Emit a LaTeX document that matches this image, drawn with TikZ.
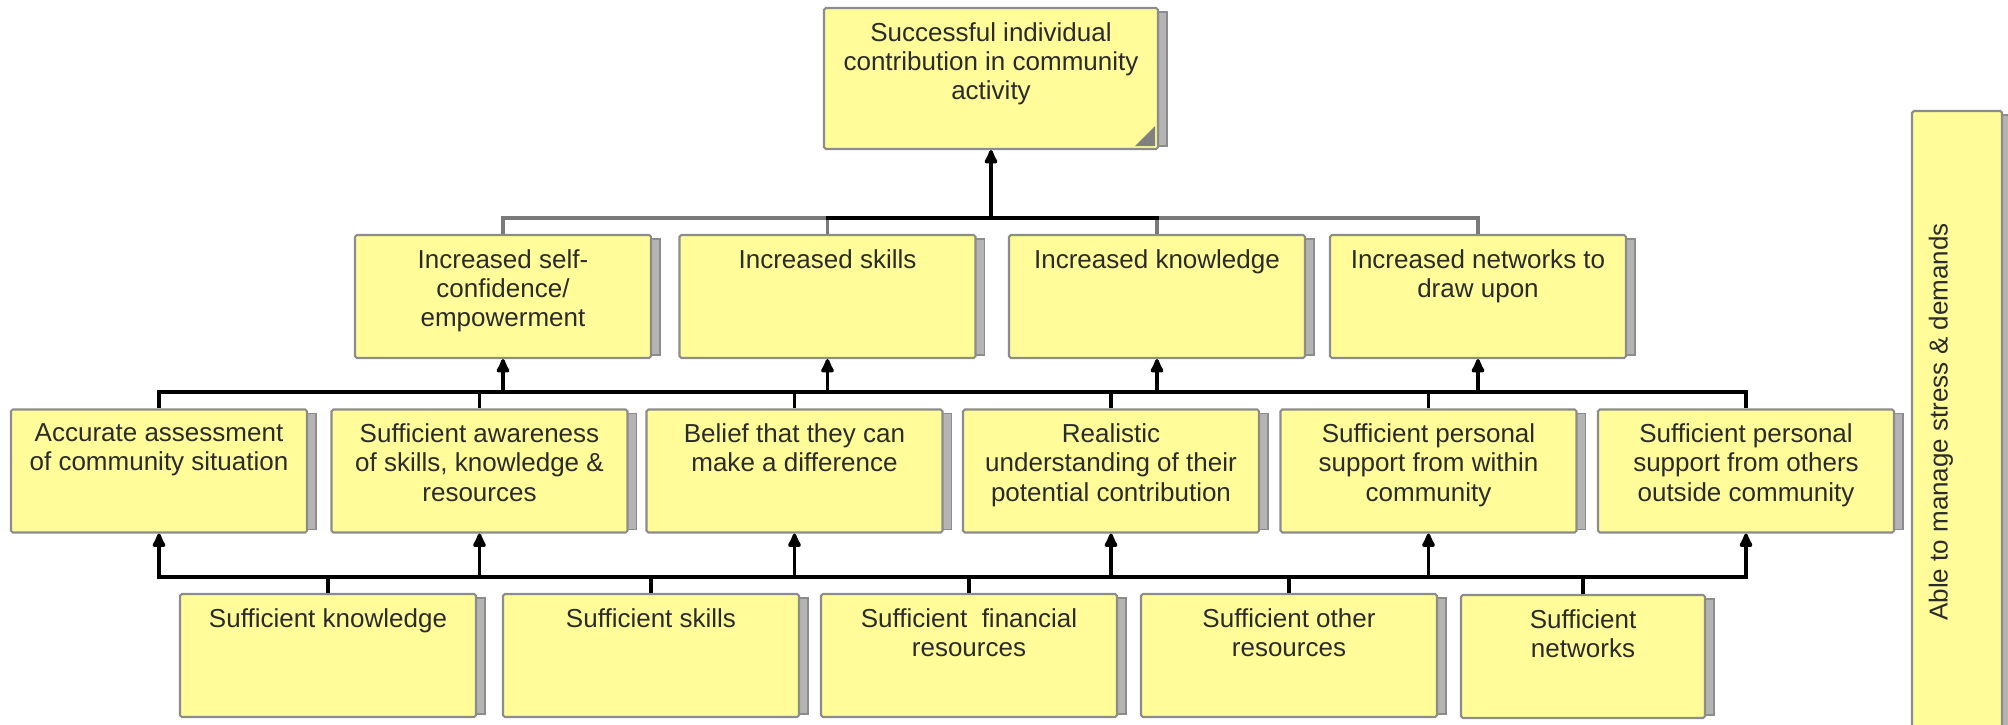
\documentclass[tikz,border=0pt]{standalone}
\usepackage{fontspec}
\setmainfont{Liberation Sans}
\usetikzlibrary{arrows.meta, positioning, calc, backgrounds}

\definecolor{cardfill}{HTML}{FFFC99}
\definecolor{cardline}{HTML}{8C8C8C}
\definecolor{cardshade}{HTML}{B4B4B4}
\definecolor{textdark}{HTML}{2B2B2B}
\definecolor{linkgray}{HTML}{7A7A7A}

\tikzset{
  card/.style={draw=cardline, fill=cardfill, line width=0.6pt, rounded corners=0.5pt,
    minimum width=2.96cm, minimum height=1.23cm, inner sep=0pt},
  cardtext/.style={anchor=north, align=center, text=textdark,
    font=\fontsize{7.4}{8.3}\selectfont, inner sep=0pt, yshift=-4.2pt},
  link/.style={line width=1pt, black},
  softlink/.style={line width=1pt, linkgray},
  bus/.style={line width=1pt, black, line cap=rect},
  uparrow/.style={line width=1pt, black, -{Latex[length=5pt,width=4.6pt,round]}},
}

\begin{document}
\begin{tikzpicture}
\useasboundingbox (0,0) rectangle (20.08,7.24);

% Goal
\node[card, minimum width=3.34cm, minimum height=1.41cm] (goal) at (9.91,6.455) {};
\node[cardtext] (goal-t) at (goal.north) {Successful individual\\contribution in community\\activity};
\fill[gray] ($(goal.south east)+(-0.04,0.24)$) -- ($(goal.south east)+(-0.04,0.04)$) -- ($(goal.south east)+(-0.24,0.04)$) -- cycle;

% Outcomes
\node[card] (b1) at (5.03,4.275) {};
\node[cardtext] (b1-t) at (b1.north) {Increased self-\\confidence/\\empowerment};
\node[card] (b2) at (8.275,4.275) {};
\node[cardtext] (b2-t) at (b2.north) {Increased skills};
\node[card] (b3) at (11.57,4.275) {};
\node[cardtext] (b3-t) at (b3.north) {Increased knowledge};
\node[card] (b4) at (14.78,4.275) {};
\node[cardtext] (b4-t) at (b4.north) {Increased networks to\\draw upon};

% Preconditions
\node[card] (c1) at (1.59,2.53) {};
\node[cardtext] (c1-t) at (c1.north) {Accurate assessment\\of community situation};
\node[card] (c2) at (4.795,2.53) {};
\node[cardtext] (c2-t) at (c2.north) {Sufficient awareness\\of skills, knowledge \&\\resources};
\node[card] (c3) at (7.945,2.53) {};
\node[cardtext] (c3-t) at (c3.north) {Belief that they can\\make a difference};
\node[card] (c4) at (11.11,2.53) {};
\node[cardtext] (c4-t) at (c4.north) {Realistic\\understanding of their\\potential contribution};
\node[card] (c5) at (14.285,2.53) {};
\node[cardtext] (c5-t) at (c5.north) {Sufficient personal\\support from within\\community};
\node[card] (c6) at (17.46,2.53) {};
\node[cardtext] (c6-t) at (c6.north) {Sufficient personal\\support from others\\outside community};

% Resources
\node[card] (d1) at (3.28,0.685) {};
\node[cardtext] (d1-t) at (d1.north) {Sufficient knowledge};
\node[card] (d2) at (6.51,0.685) {};
\node[cardtext] (d2-t) at (d2.north) {Sufficient skills};
\node[card] (d3) at (9.69,0.685) {};
\node[cardtext] (d3-t) at (d3.north) {Sufficient\ \ financial\\resources};
\node[card] (d4) at (12.89,0.685) {};
\node[cardtext] (d4-t) at (d4.north) {Sufficient other\\resources};
\node[card, minimum width=2.44cm] (d5) at (15.83,0.675) {};
\node[cardtext] (d5-t) at (d5.north) {Sufficient\\networks};

% Side condition
\node[card, minimum width=0.90cm, minimum height=6.22cm] (stress) at (19.57,3.02) {};
\node[text=textdark, font=\fontsize{7.4}{8.3}\selectfont, rotate=90, inner sep=0pt] (stress-t)
  at ($(stress.center)+(-0.16,0)$) {Able to manage stress \& demands};

% stacked sheets behind the cards
\begin{scope}[on background layer]
\foreach \n in {goal,b1,b2,b3,b4,c1,c2,c3,c4,c5,c6,d1,d2,d3,d4,d5,stress} {
    \filldraw[fill=cardshade, draw=cardline, line width=0.4pt]
      ($(\n.north east)+(-0.05,-0.05)$) rectangle ($(\n.south east)+(0.08,0.04)$);
}
\end{scope}

% bus levels
\coordinate (bus12) at (0,5.06);
\coordinate (bus23) at (0,3.32);
\coordinate (bus34) at (0,1.47);

% Outcomes -> goal
\draw[softlink] (b1.north) -- (b1.north |- bus12) -- (b4.north |- bus12) -- (b4.north);
\draw[softlink] (b2.north) -- (b2.north |- bus12);
\draw[softlink] (b3.north) -- (b3.north |- bus12);
\draw[bus] (b2.north |- bus12) -- (b3.north |- bus12);
\draw[uparrow] (goal.south |- bus12) -- (goal.south);

% Preconditions -> outcomes
\draw[bus] (c1.north |- bus23) -- (c6.north |- bus23);
\foreach \n in {c1,c2,c3,c4,c5,c6} {
    \draw[link] (\n.north) -- (\n.north |- bus23);
}
\foreach \n in {b1,b2,b3,b4} {
    \draw[uparrow] (\n.south |- bus23) -- (\n.south);
}

% Resources -> preconditions
\draw[bus] (c1.south |- bus34) -- (c6.south |- bus34);
\foreach \n in {d1,d2,d3,d4,d5} {
    \draw[link] (\n.north) -- (\n.north |- bus34);
}
\foreach \n in {c1,c2,c3,c4,c5,c6} {
    \draw[uparrow] (\n.south |- bus34) -- (\n.south);
}
\end{tikzpicture}
\end{document}
